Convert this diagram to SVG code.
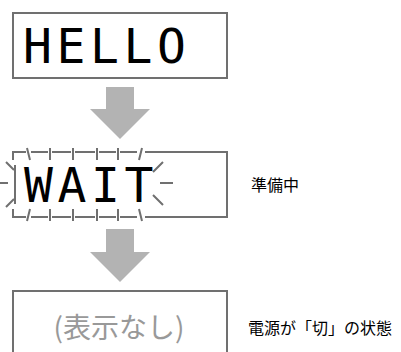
<svg xmlns="http://www.w3.org/2000/svg" width="401" height="352" viewBox="0 0 401 352">
<style>
.box{fill:#fff;stroke:#707070;stroke-width:2}
.lcd{font-family:"DejaVu Sans Mono",monospace;font-size:48px;fill:#000;letter-spacing:4.6px}
.tick{stroke:#707070;stroke-width:2;fill:none;stroke-linecap:butt}
.arrow{fill:#b3b3b3}
.note{font-family:"Noto Sans CJK JP","Noto Sans",sans-serif;font-size:16px;fill:#000}
.none{font-family:"Noto Sans CJK JP","Noto Sans",sans-serif;font-size:28px;fill:#999}
</style>
<rect width="401" height="352" fill="#fff"/>
<g id="connectors">
<polygon class="arrow" points="106,87 134,87 134,109 150,109 120,139 90,109 106,109"/>
<polygon class="arrow" points="106,229 134,229 134,252 150,252 120,282 90,252 106,252"/>
</g>
<g id="hello">
<rect class="box" x="13" y="13" width="214" height="65"/>
<text class="lcd" x="23" y="63">HELLO</text>
</g>
<g id="wait">
<path class="tick" d="M145,152 H227 V217 H145"/>
<path class="tick" d="M13,160 V152 H26 M31,152 H48 M52,152 H71 M75,152 H95 M99,152 H116 M120,152 H137"/>
<path class="tick" d="M13,209 V217 H26 M31,217 H48 M52,217 H71 M75,217 H95 M99,217 H116 M120,217 H137"/>
<path class="tick" d="M27,148 L30,160 M50,148 V160 M73,148 V160 M97,148 V160 M118,148 V160 M142,148 L139,160"/>
<path class="tick" d="M27,221 L30,209 M50,221 V209 M73,221 V209 M97,221 V209 M118,221 V209 M142,221 L139,209"/>
<path class="tick" d="M15,165 V204"/>
<path class="tick" d="M6,162 L14,170 M0,183 H8 M6,207 L14,199"/>
<path class="tick" d="M153,172 L163,162 M160,183 H173 M153,195 L163,205"/>
<text class="lcd" x="24" y="202">WAIT</text>
<text class="note" x="251" y="191">準備中</text>
</g>
<g id="off">
<rect class="box" x="13" y="291" width="214" height="70"/>
<text class="none" x="119" y="338" text-anchor="middle">(表示なし)</text>
<text class="note" x="248" y="334">電源が「切」の状態</text>
</g>
</svg>
